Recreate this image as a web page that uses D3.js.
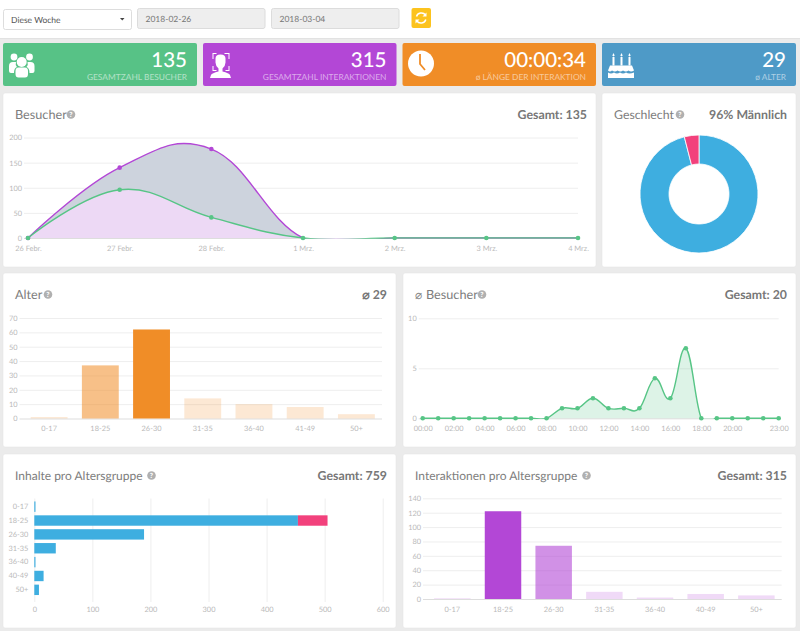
<!DOCTYPE html>
<html>
<head>
<meta charset="utf-8">
<script src="https://cdnjs.cloudflare.com/ajax/libs/d3/7.8.5/d3.min.js"></script>
<style>
html, body { margin: 0; padding: 0; background: #ebebeb; }
svg { display: block; font-family: Lato, "Open Sans", sans-serif; text-rendering: geometricPrecision; }
.tick text { font-size: 7.4px; fill: #b9b9b9; font-family: Lato, sans-serif; }
.tick line { stroke: #eeeeee; stroke-width: 1; }
</style>
</head>
<body>
<svg id="svg" width="800" height="631"></svg>
<script>
// data
var days = ["26 Febr.", "27 Febr.", "28 Febr.", "1 Mrz.", "2 Mrz.", "3 Mrz.", "4 Mrz."];
var visitorsPurple = [0, 140, 177, 0, 0, 0, 0];
var visitorsGreen = [0, 96, 41, 0, 0, 0, 0];
var visitorTicks = [0, 50, 100, 150, 200];

var gender = [96, 4];

var ageGroups = ["0-17", "18-25", "26-30", "31-35", "36-40", "41-49", "50+"];
var ageValues = [1, 37, 62, 14, 10, 8, 3];
var ageOpacity = [0.2, 0.55, 1, 0.2, 0.2, 0.2, 0.2];
var ageTicks = [0, 10, 20, 30, 40, 50, 60, 70];

var hours = ["00:00", "01:00", "02:00", "03:00", "04:00", "05:00", "06:00", "07:00", "08:00", "09:00", "10:00", "11:00",
    "12:00", "13:00", "14:00", "15:00", "16:00", "17:00", "18:00", "19:00", "20:00", "21:00", "22:00", "23:00"];
var hourValues = [0, 0, 0, 0, 0, 0, 0, 0, 0, 1, 1, 2, 1, 1, 1, 4, 2, 7, 0, 0, 0, 0, 0, 0];
var hourLabels = ["00:00", "02:00", "04:00", "06:00", "08:00", "10:00", "12:00", "14:00", "16:00", "18:00", "20:00", "23:00"];
var hourTicks = [0, 5, 10];

var contentGroups = ["0-17", "18-25", "26-30", "31-35", "36-40", "40-49", "50+"];
var contentBlue = [2, 454, 189, 37, 2, 16, 8];
var contentPink = [0, 51, 0, 0, 0, 0, 0];
var contentTicks = [0, 100, 200, 300, 400, 500, 600];

var interactionValues = [1, 122, 74, 10, 2, 7, 5];
var interactionOpacity = [0.2, 1, 0.6, 0.2, 0.2, 0.2, 0.2];
var interactionTicks = [0, 20, 40, 60, 80, 100, 120, 140];

var GREEN = "#57c586", PURPLE = "#b347d6", ORANGE = "#f08d27", BLUE = "#3eaee0", PINK = "#f2417c";

var svg = d3.select("#svg");

function panel(x, y, w, h) {
    svg.append("rect")
        .attr("x", x).attr("y", y).attr("width", w).attr("height", h).attr("rx", 2)
        .attr("fill", "#fff").attr("stroke", "#e0e0e0").attr("stroke-width", 0.5);
}

function helpIcon(x, y) {
    svg.append("circle").attr("cx", x).attr("cy", y).attr("r", 4.3).attr("fill", "#b0b0b0");
    svg.append("text").attr("x", x).attr("y", y + 2.6).attr("text-anchor", "middle")
        .attr("font-size", 7).attr("font-weight", 900).attr("fill", "#fff").text("?");
}

function heading(title, x, y, helpX, right, rightX, size) {
    svg.append("text").attr("x", x).attr("y", y).attr("font-size", size || 12.7).attr("fill", "#7d7d7d").text(title);
    helpIcon(helpX, y - 4.5);
    svg.append("text").attr("x", rightX).attr("y", y).attr("text-anchor", "end")
        .attr("font-size", 12.3).attr("font-weight", 700).attr("fill", "#777").text(right);
}

function kpi(x, w, color, value, label) {
    svg.append("rect").attr("x", x).attr("y", 43).attr("width", w).attr("height", 43).attr("rx", 2).attr("fill", color);
    svg.append("text").attr("x", x + w - 10).attr("y", 67).attr("text-anchor", "end")
        .attr("font-size", 20.5).attr("font-weight", 500).attr("fill", "#fff").text(value);
    svg.append("text").attr("x", x + w - 10).attr("y", 80).attr("text-anchor", "end")
        .attr("font-size", 8.4).attr("fill", "#fff").attr("fill-opacity", 0.55).text(label);
}

function yAxis(x, w, scale, ticks) {
    var g = svg.append("g").attr("transform", "translate(" + x + ",0)")
        .call(d3.axisLeft(scale).tickValues(ticks).tickSize(-w).tickPadding(6));
    g.select(".domain").remove();
    g.selectAll(".tick line").attr("x1", w).attr("x2", -4)
        .style("stroke", function (d) { return d == 0 ? "#dddddd" : null; });
    return g;
}

function xLabels(scale, labels, y) {
    var g = svg.append("g").attr("transform", "translate(0," + y + ")")
        .call(d3.axisBottom(scale).tickValues(labels).tickSize(0).tickPadding(0));
    g.select(".domain").remove();
    return g;
}

function clipFor(id, x, y, w, h) {
    svg.append("clipPath").attr("id", id).append("rect")
        .attr("x", x).attr("y", y).attr("width", w).attr("height", h);
}

function points(xs, ys, labels, values) {
    svg.append("g").selectAll("circle").data(values).enter().append("circle")
        .attr("cx", function (d, i) { return xs(labels[i]); })
        .attr("cy", function (d) { return ys(d); })
        .attr("r", 2.3)
        .attr("fill", GREEN);
}

// page top
svg.append("rect").attr("width", 800).attr("height", 38).attr("fill", "#fff");
svg.append("rect").attr("y", 38).attr("width", 800).attr("height", 1).attr("fill", "#e2e2e2");
svg.append("rect").attr("x", 3.5).attr("y", 9.5).attr("width", 128).attr("height", 20).attr("rx", 2)
    .attr("fill", "#fff").attr("stroke", "#dddddd");
svg.append("text").attr("x", 11).attr("y", 22.5).attr("font-size", 8.5).attr("fill", "#555").text("Diese Woche");
svg.append("path").attr("d", "M120 18h4.5l-2.25 2.5z").attr("fill", "#444");
[[137.5, "2018-02-26"], [271.5, "2018-03-04"]].forEach(function (d) {
    svg.append("rect").attr("x", d[0]).attr("y", 8.5).attr("width", 127.5).attr("height", 20).attr("rx", 2)
        .attr("fill", "#eeeeee").attr("stroke", "#dcdcdc");
    svg.append("text").attr("x", d[0] + 8).attr("y", 22).attr("font-size", 8.5).attr("fill", "#777").text(d[1]);
});
svg.append("rect").attr("x", 411.5).attr("y", 8).attr("width", 19.5).attr("height", 20).attr("rx", 2).attr("fill", "#fcc31e");
svg.append("path").attr("d", "M416.5 16.5a5 4.5 0 0 1 9-1.5M425.8 19.5a5 4.5 0 0 1 -9 1.5")
    .attr("fill", "none").attr("stroke", "#fff").attr("stroke-width", 1.5);
svg.append("path").attr("d", "M426.5 12.5v4h-4zM415.5 23.5v-4h4z").attr("fill", "#fff");

// kpi boxes
kpi(3, 194, "#57c286", "135", "GESAMTZAHL BESUCHER");
kpi(203, 193.5, "#b347d6", "315", "GESAMTZAHL INTERAKTIONEN");
kpi(402.5, 193.5, "#f08d27", "00:00:34", "\u00f8 LÄNGE DER INTERAKTION");
kpi(602, 194, "#4e9ac7", "29", "\u00f8 ALTER");

// users icon
var icons = svg.append("g").attr("fill", "#fff");
icons.append("circle").attr("cx", 14).attr("cy", 57).attr("r", 3.4);
icons.append("circle").attr("cx", 29.5).attr("cy", 57).attr("r", 3.4);
icons.append("circle").attr("cx", 21.7).attr("cy", 62).attr("r", 5);
icons.append("path").attr("d", "M9 71v-5q0-4 4-4h3q-1 3 1 5-3 1-3 6h-3q-2 0-2-2zM34.5 71v-5q0-4-4-4h-3q1 3-1 5 3 1 3 6h3q2 0 2-2z");
icons.append("path").attr("d", "M15.5 74v-3q0-3.500 3-3.500h6.500q3 0 3 3.500v3q0 3.500-3 3.500h-6.500q-3 0-3-3.500z");
// person icon
icons.append("path").attr("d", "M210 78l1-3q1-2 7.500-3.500v-3q-3-3-3-6v-4q0-4 5-4t5 4v4q0 3-3 6v3q6.500 1.500 7.500 3.500l1 3z");
icons.append("path").attr("d", "M212.500 59v-6h4v1h-3v5zM224.500 53h5v6h-1v-5h-4zM212.500 66h1v4h3v1h-4zM229.500 66h-1v4h-3v1h4z");
// clock icon
icons.append("circle").attr("cx", 421).attr("cy", 63.500).attr("r", 13);
svg.append("path").attr("d", "M420 54v10l5 6").attr("fill", "none").attr("stroke", ORANGE).attr("stroke-width", 1.8);
// cake icon
icons.append("path").attr("d", "M610 65.500h22l2 5q-3 2-5.500 0-2.500 2-5.500 0-2.500 2-5.500 0-2.500 2-5.500 0-2 2-4 0z");
icons.append("path").attr("d", "M608 72.500q3 2 6 0 3 2 6 0 3 2 6 0 3 2 8 0v5.500h-26z");
icons.append("path").attr("d", "M612.500 57h2v8.500h-2zM620.500 57h2v8.500h-2zM628.500 57h2v8.500h-2z");
icons.append("path").attr("d", "M613.500 53l1.200 2.500-1.200 1-1.200-1zM621.500 53l1.200 2.500-1.200 1-1.200-1zM629.500 53l1.200 2.500-1.200 1-1.200-1z");

// besucher
panel(3, 93, 593, 174);
heading("Besucher", 15, 119, 71, "Gesamt: 135", 587);
var x1 = d3.scalePoint().domain(days).range([28, 578]);
var y1 = d3.scaleLinear().domain([0, 200]).range([238, 137.500]);
yAxis(28, 550, y1, visitorTicks);
xLabels(x1, days, 245.5);
clipFor("clip1", 20, 130, 566, 108.800);
function curve1(values) {
    return d3.area()
        .x(function (d, i) { return x1(days[i]); })
        .y0(y1(0))
        .y1(function (d) { return y1(d); })
        .curve(d3.curveCardinal.tension(-0.2))(values);
}
function line1(values) {
    return d3.line()
        .x(function (d, i) { return x1(days[i]); })
        .y(function (d) { return y1(d); })
        .curve(d3.curveCardinal.tension(-0.2))(values);
}
svg.append("path").attr("clip-path", "url(#clip1)").attr("d", curve1(visitorsPurple)).attr("fill", "#cdd3dd");
svg.append("path").attr("clip-path", "url(#clip1)").attr("d", curve1(visitorsGreen)).attr("fill", "#edd9f5");
svg.append("path").attr("clip-path", "url(#clip1)").attr("d", line1(visitorsPurple)).attr("fill", "none")
    .attr("stroke", PURPLE).attr("stroke-width", 1.4);
svg.append("path").attr("clip-path", "url(#clip1)").attr("d", line1(visitorsGreen)).attr("fill", "none")
    .attr("stroke", GREEN).attr("stroke-width", 1.4);
svg.append("g").selectAll("circle").data(visitorsPurple.slice(0, 3)).enter().append("circle")
    .attr("cx", function (d, i) { return x1(days[i]); })
    .attr("cy", function (d) { return y1(d); })
    .attr("r", 2.3)
    .attr("fill", PURPLE);
points(x1, y1, days, visitorsGreen);

// geschlecht
panel(602, 93, 194, 174);
heading("Geschlecht", 614, 119, 680, "96% Männlich", 787, 12.3);
var pie = d3.pie().sort(null)(gender);
var arc = d3.arc().innerRadius(30).outerRadius(59);
svg.append("g").attr("transform", "translate(699,194)")
    .selectAll("path").data(pie).enter().append("path")
    .attr("d", arc)
    .attr("fill", function (d, i) { return i == 0 ? BLUE : PINK; })
    .attr("stroke", "#fff")
    .attr("stroke-width", 0.8);

// alter
panel(3, 273, 393, 174);
heading("Alter", 15, 299, 48, "\u2300 29", 387);
var x2 = d3.scaleBand().domain(ageGroups).range([23.500, 382]).paddingInner(0.28).paddingOuter(0.14);
var y2 = d3.scaleLinear().domain([0, 70]).range([418.500, 318]);
yAxis(23.500, 358.500, y2, ageTicks);
xLabels(x2, ageGroups, 425.5);
svg.append("g").selectAll("rect").data(ageValues).enter().append("rect")
    .attr("x", function (d, i) { return x2(ageGroups[i]); })
    .attr("y", function (d) { return y2(d); })
    .attr("width", x2.bandwidth())
    .attr("height", function (d) { return y2(0) - y2(d); })
    .attr("fill", ORANGE)
    .attr("fill-opacity", function (d, i) { return ageOpacity[i]; });

// besucher pro stunde
panel(403, 273, 393, 174);
svg.append("text").attr("x", 415).attr("y", 299).attr("font-size", 12).attr("fill", "#8a8a8a").text("\u2300");
heading("Besucher", 426, 299, 482, "Gesamt: 20", 787);
var x3 = d3.scalePoint().domain(hours).range([422.700, 778.700]);
var y3 = d3.scaleLinear().domain([0, 10]).range([418.300, 318.300]);
yAxis(422.700, 356, y3, hourTicks);
xLabels(x3, hourLabels, 425.5);
clipFor("clip3", 415, 310, 372, 109);
var area3 = d3.area()
    .x(function (d, i) { return x3(hours[i]); })
    .y0(y3(0))
    .y1(function (d) { return y3(d); })
    .curve(d3.curveCardinal.tension(-0.2));
var line3 = d3.line()
    .x(function (d, i) { return x3(hours[i]); })
    .y(function (d) { return y3(d); })
    .curve(d3.curveCardinal.tension(-0.2));
svg.append("path").attr("clip-path", "url(#clip3)").attr("d", area3(hourValues)).attr("fill", GREEN).attr("fill-opacity", 0.2);
svg.append("path").attr("clip-path", "url(#clip3)").attr("d", line3(hourValues)).attr("fill", "none")
    .attr("stroke", GREEN).attr("stroke-width", 1.4);
points(x3, y3, hours, hourValues);

// inhalte
panel(3, 454, 393, 174);
heading("Inhalte pro Altersgruppe", 15, 480, 151.500, "Gesamt: 759", 387, 12);
var x4 = d3.scaleLinear().domain([0, 600]).range([34.300, 382.700]);
var y4 = d3.scaleBand().domain(contentGroups).range([498, 598.500]).padding(0.25);
var g4 = svg.append("g").attr("transform", "translate(0,602)")
    .call(d3.axisBottom(x4).tickValues(contentTicks).tickSize(-103.500).tickPadding(4.5));
g4.select(".domain").remove();
var l4 = svg.append("g").attr("transform", "translate(34.300,0)")
    .call(d3.axisLeft(y4).tickSize(0).tickPadding(6));
l4.select(".domain").remove();
svg.append("g").selectAll("rect").data(contentBlue).enter().append("rect")
    .attr("x", x4(0))
    .attr("y", function (d, i) { return y4(contentGroups[i]); })
    .attr("width", function (d) { return x4(d) - x4(0); })
    .attr("height", y4.bandwidth())
    .attr("fill", BLUE);
svg.append("g").selectAll("rect").data(contentPink).enter().append("rect")
    .attr("x", function (d, i) { return x4(contentBlue[i]); })
    .attr("y", function (d, i) { return y4(contentGroups[i]); })
    .attr("width", function (d, i) { return x4(d) - x4(0); })
    .attr("height", y4.bandwidth())
    .attr("fill", PINK);

// interaktionen
panel(403, 454, 393, 174);
heading("Interaktionen pro Altersgruppe", 415, 480, 586.500, "Gesamt: 315", 787, 12);
var interactionGroups = contentGroups;
var x5 = d3.scaleBand().domain(interactionGroups).range([427, 781.700]).paddingInner(0.28).paddingOuter(0.14);
var y5 = d3.scaleLinear().domain([0, 140]).range([599, 498.300]);
yAxis(427, 354.700, y5, interactionTicks);
xLabels(x5, interactionGroups, 606.5);
svg.append("g").selectAll("rect").data(interactionValues).enter().append("rect")
    .attr("x", function (d, i) { return x5(interactionGroups[i]); })
    .attr("y", function (d) { return y5(d); })
    .attr("width", x5.bandwidth())
    .attr("height", function (d) { return y5(0) - y5(d); })
    .attr("fill", PURPLE)
    .attr("fill-opacity", function (d, i) { return interactionOpacity[i]; });
</script>
</body>
</html>
